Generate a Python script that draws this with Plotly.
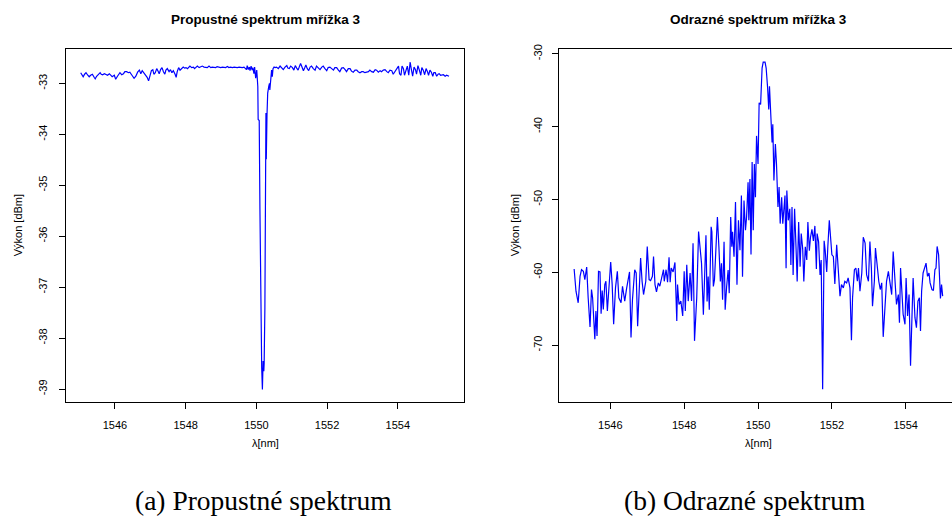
import plotly.graph_objects as go

# ---- Transmission spectrum (grating 3) ----
wl_trans = [
    1545.03, 1545.08, 1545.10, 1545.14, 1545.18, 1545.23, 1545.27, 1545.31, 1545.36, 1545.41,
    1545.44, 1545.48, 1545.53, 1545.58, 1545.61, 1545.65, 1545.70, 1545.75, 1545.79, 1545.84,
    1545.88, 1545.92, 1545.98, 1546.02, 1546.07, 1546.10, 1546.14, 1546.19, 1546.24, 1546.28,
    1546.33, 1546.38, 1546.42, 1546.48, 1546.54, 1546.59, 1546.64, 1546.69, 1546.73, 1546.77,
    1546.82, 1546.86, 1546.91, 1546.95, 1546.99, 1547.03, 1547.07, 1547.10, 1547.14, 1547.18,
    1547.22, 1547.25, 1547.29, 1547.33, 1547.37, 1547.41, 1547.44, 1547.48, 1547.53, 1547.57,
    1547.61, 1547.65, 1547.70, 1547.73, 1547.76, 1547.80, 1547.84, 1547.89, 1547.93, 1547.97,
    1548.01, 1548.05, 1548.08, 1548.12, 1548.17, 1548.22, 1548.25, 1548.29, 1548.33, 1548.38,
    1548.42, 1548.47, 1548.52, 1548.56, 1548.61, 1548.66, 1548.71, 1548.75, 1548.80, 1548.85,
    1548.89, 1548.94, 1548.99, 1549.04, 1549.08, 1549.13, 1549.18, 1549.22, 1549.27, 1549.32,
    1549.37, 1549.41, 1549.46, 1549.51, 1549.55, 1549.60, 1549.65, 1549.69, 1549.72, 1549.74,
    1549.77, 1549.80, 1549.82, 1549.85, 1549.88, 1549.90, 1549.93, 1549.95, 1549.98, 1550.01,
    1550.04, 1550.05, 1550.08, 1550.10, 1550.12, 1550.15, 1550.17, 1550.19, 1550.21, 1550.22,
    1550.24, 1550.26, 1550.27, 1550.28, 1550.30, 1550.32, 1550.35, 1550.37, 1550.38, 1550.40,
    1550.43, 1550.45, 1550.47, 1550.50, 1550.53, 1550.57, 1550.62, 1550.67, 1550.72, 1550.76,
    1550.81, 1550.86, 1550.89, 1550.93, 1550.97, 1551.02, 1551.06, 1551.10, 1551.14, 1551.18,
    1551.21, 1551.25, 1551.29, 1551.33, 1551.37, 1551.40, 1551.44, 1551.48, 1551.52, 1551.56,
    1551.61, 1551.66, 1551.70, 1551.75, 1551.80, 1551.85, 1551.89, 1551.94, 1551.99, 1552.03,
    1552.08, 1552.13, 1552.18, 1552.22, 1552.27, 1552.32, 1552.36, 1552.41, 1552.46, 1552.51,
    1552.55, 1552.60, 1552.65, 1552.69, 1552.74, 1552.79, 1552.84, 1552.88, 1552.93, 1552.98,
    1553.02, 1553.07, 1553.12, 1553.17, 1553.21, 1553.26, 1553.31, 1553.36, 1553.40, 1553.45,
    1553.50, 1553.54, 1553.59, 1553.64, 1553.69, 1553.73, 1553.78, 1553.83, 1553.87, 1553.92,
    1553.97, 1554.02, 1554.05, 1554.09, 1554.12, 1554.16, 1554.19, 1554.23, 1554.27, 1554.31,
    1554.35, 1554.38, 1554.42, 1554.46, 1554.50, 1554.53, 1554.57, 1554.61, 1554.65, 1554.68,
    1554.72, 1554.76, 1554.80, 1554.84, 1554.87, 1554.91, 1554.95, 1554.99, 1555.02, 1555.06,
    1555.10, 1555.14, 1555.17, 1555.21, 1555.25, 1555.29, 1555.34, 1555.38, 1555.45,
]
power_trans = [
    -32.79, -32.84, -32.87, -32.82, -32.79, -32.84, -32.87, -32.84, -32.82, -32.88,
    -32.91, -32.86, -32.82, -32.79, -32.82, -32.83, -32.81, -32.82, -32.84, -32.81,
    -32.84, -32.87, -32.84, -32.92, -32.86, -32.82, -32.79, -32.83, -32.81, -32.77,
    -32.77, -32.79, -32.78, -32.84, -32.90, -32.86, -32.78, -32.74, -32.81, -32.75,
    -32.79, -32.84, -32.88, -32.95, -32.87, -32.75, -32.73, -32.82, -32.79, -32.71,
    -32.76, -32.81, -32.73, -32.69, -32.77, -32.82, -32.74, -32.71, -32.77, -32.73,
    -32.79, -32.75, -32.82, -32.88, -32.77, -32.69, -32.74, -32.71, -32.68, -32.70,
    -32.69, -32.71, -32.69, -32.66, -32.69, -32.68, -32.71, -32.68, -32.66, -32.69,
    -32.68, -32.66, -32.68, -32.68, -32.69, -32.66, -32.69, -32.68, -32.68, -32.69,
    -32.67, -32.68, -32.69, -32.68, -32.68, -32.69, -32.67, -32.69, -32.68, -32.69,
    -32.68, -32.69, -32.69, -32.68, -32.69, -32.69, -32.68, -32.70, -32.73, -32.65,
    -32.73, -32.68, -32.75, -32.66, -32.74, -32.69, -32.81, -32.68, -32.90, -32.74,
    -33.06, -33.71, -33.73, -35.47, -37.42, -38.58, -39.01, -38.45, -38.65, -38.49,
    -37.42, -35.60, -33.58, -34.49, -33.62, -33.19, -33.06, -33.00, -33.13, -32.94,
    -32.74, -32.87, -32.71, -32.68, -32.69, -32.68, -32.71, -32.66, -32.69, -32.73,
    -32.68, -32.65, -32.70, -32.71, -32.66, -32.69, -32.74, -32.65, -32.70, -32.74,
    -32.68, -32.61, -32.68, -32.75, -32.69, -32.64, -32.71, -32.75, -32.68, -32.66,
    -32.71, -32.74, -32.66, -32.69, -32.73, -32.68, -32.66, -32.71, -32.75, -32.69,
    -32.68, -32.71, -32.74, -32.69, -32.69, -32.74, -32.77, -32.70, -32.69, -32.73,
    -32.77, -32.71, -32.71, -32.76, -32.78, -32.74, -32.74, -32.77, -32.79, -32.77,
    -32.77, -32.79, -32.78, -32.77, -32.74, -32.77, -32.78, -32.73, -32.74, -32.78,
    -32.75, -32.77, -32.74, -32.73, -32.77, -32.79, -32.74, -32.75, -32.82, -32.77,
    -32.73, -32.66, -32.81, -32.84, -32.66, -32.71, -32.84, -32.74, -32.66, -32.84,
    -32.58, -32.71, -32.86, -32.68, -32.73, -32.82, -32.65, -32.74, -32.84, -32.69,
    -32.74, -32.83, -32.71, -32.77, -32.84, -32.74, -32.78, -32.86, -32.79, -32.79,
    -32.86, -32.82, -32.81, -32.84, -32.84, -32.83, -32.86, -32.84, -32.86,
]

# ---- Reflection spectrum (grating 3) ----
wl_refl = [
    1545.02, 1545.07, 1545.13, 1545.18, 1545.22, 1545.27, 1545.31, 1545.36, 1545.40, 1545.45,
    1545.49, 1545.52, 1545.58, 1545.61, 1545.64, 1545.68, 1545.72, 1545.75, 1545.78, 1545.81,
    1545.85, 1545.88, 1545.92, 1545.95, 1546.01, 1546.05, 1546.09, 1546.14, 1546.19, 1546.23,
    1546.29, 1546.33, 1546.39, 1546.44, 1546.50, 1546.52, 1546.56, 1546.60, 1546.66, 1546.70,
    1546.74, 1546.79, 1546.82, 1546.86, 1546.90, 1546.96, 1547.00, 1547.05, 1547.09, 1547.14,
    1547.17, 1547.21, 1547.25, 1547.30, 1547.34, 1547.39, 1547.44, 1547.46, 1547.51, 1547.55,
    1547.59, 1547.62, 1547.65, 1547.70, 1547.75, 1547.80, 1547.82, 1547.86, 1547.91, 1547.96,
    1548.00, 1548.03, 1548.07, 1548.11, 1548.16, 1548.20, 1548.24, 1548.28, 1548.34, 1548.39,
    1548.47, 1548.52, 1548.56, 1548.59, 1548.62, 1548.65, 1548.68, 1548.73, 1548.75, 1548.79,
    1548.82, 1548.86, 1548.90, 1548.94, 1548.98, 1549.01, 1549.04, 1549.08, 1549.11, 1549.15,
    1549.19, 1549.22, 1549.26, 1549.29, 1549.31, 1549.35, 1549.39, 1549.43, 1549.47, 1549.51,
    1549.55, 1549.58, 1549.62, 1549.66, 1549.69, 1549.73, 1549.75, 1549.78, 1549.81, 1549.84,
    1549.87, 1549.90, 1549.93, 1549.96, 1550.00, 1550.03, 1550.07, 1550.11, 1550.14, 1550.19,
    1550.22, 1550.26, 1550.29, 1550.31, 1550.35, 1550.38, 1550.40, 1550.43, 1550.47, 1550.50,
    1550.54, 1550.57, 1550.60, 1550.64, 1550.67, 1550.70, 1550.73, 1550.76, 1550.78, 1550.82,
    1550.86, 1550.89, 1550.92, 1550.95, 1550.99, 1551.03, 1551.06, 1551.10, 1551.14, 1551.17,
    1551.21, 1551.24, 1551.28, 1551.32, 1551.35, 1551.39, 1551.42, 1551.46, 1551.50, 1551.54,
    1551.58, 1551.60, 1551.64, 1551.68, 1551.71, 1551.75, 1551.79, 1551.82, 1551.86, 1551.89,
    1551.93, 1552.00, 1552.04, 1552.08, 1552.13, 1552.17, 1552.22, 1552.26, 1552.31, 1552.35,
    1552.40, 1552.44, 1552.49, 1552.53, 1552.56, 1552.61, 1552.65, 1552.69, 1552.72, 1552.76,
    1552.81, 1552.85, 1552.90, 1552.94, 1552.99, 1553.03, 1553.07, 1553.10, 1553.15, 1553.18,
    1553.23, 1553.27, 1553.31, 1553.35, 1553.39, 1553.44, 1553.48, 1553.53, 1553.57, 1553.62,
    1553.66, 1553.71, 1553.75, 1553.80, 1553.83, 1553.86, 1553.91, 1553.93, 1553.98, 1554.01,
    1554.05, 1554.09, 1554.13, 1554.18, 1554.20, 1554.25, 1554.29, 1554.33, 1554.37, 1554.40,
    1554.43, 1554.47, 1554.52, 1554.55, 1554.59, 1554.63, 1554.66, 1554.71, 1554.75, 1554.79,
    1554.82, 1554.85, 1554.89, 1554.94, 1554.97, 1555.00,
]
power_refl = [
    -59.55, -62.59, -64.18, -60.55, -59.64, -59.86, -61.00, -59.27, -63.50, -67.50,
    -62.36, -63.50, -69.18, -65.32, -68.73, -59.86, -59.95, -65.68, -62.50, -65.09,
    -61.68, -61.23, -65.32, -62.59, -58.59, -61.68, -67.14, -62.14, -59.86, -63.50,
    -64.18, -61.91, -63.95, -62.23, -60.09, -59.95, -68.95, -63.73, -59.64, -60.09,
    -67.41, -61.00, -58.05, -61.23, -63.05, -61.23, -56.45, -61.00, -61.14, -60.55,
    -57.82, -61.68, -62.68, -61.45, -61.91, -60.77, -59.64, -61.23, -59.64, -61.36,
    -57.95, -61.36, -59.41, -59.95, -58.64, -66.68, -61.68, -64.41, -63.95, -66.00,
    -59.86, -65.32, -58.95, -63.95, -60.09, -63.95, -56.00, -69.41, -63.50, -54.41,
    -58.77, -65.82, -58.31, -54.90, -64.00, -60.59, -65.13, -53.75, -54.45, -61.95,
    -61.04, -56.50, -52.40, -56.50, -61.27, -58.77, -63.77, -55.80, -65.13, -61.95,
    -59.68, -62.86, -52.40, -56.50, -54.45, -57.86, -50.36, -61.72, -52.86, -56.95,
    -49.45, -60.59, -50.13, -54.22, -52.40, -47.63, -52.86, -47.18, -57.54, -44.86,
    -54.22, -45.13, -49.68, -41.27, -45.13, -36.72, -36.95, -31.95, -31.13, -31.13,
    -31.95, -34.68, -37.63, -34.45, -39.68, -42.18, -39.68, -47.40, -42.40, -45.13,
    -51.04, -48.30, -53.31, -49.68, -53.31, -51.04, -49.45, -59.45, -48.77, -52.86,
    -51.27, -58.99, -51.04, -60.36, -51.27, -56.72, -61.27, -53.09, -59.22, -54.68,
    -56.81, -61.27, -56.50, -58.31, -53.09, -57.04, -55.22, -54.09, -55.68, -53.63,
    -59.54, -54.68, -55.81, -60.36, -58.31, -76.04, -55.68, -57.04, -59.95, -56.50,
    -52.86, -57.59, -57.82, -61.59, -56.23, -59.41, -63.27, -61.68, -62.14, -61.23,
    -61.45, -60.77, -62.14, -69.32, -63.50, -59.64, -59.41, -61.23, -59.41, -62.59,
    -60.09, -55.18, -56.00, -60.32, -61.23, -55.77, -59.41, -64.64, -61.23, -56.68,
    -59.86, -61.23, -62.36, -61.45, -68.86, -63.50, -61.23, -59.86, -61.68, -63.05,
    -57.14, -61.00, -64.41, -63.05, -66.91, -59.41, -64.18, -65.77, -67.14, -60.77,
    -66.00, -63.05, -72.82, -63.95, -60.77, -66.23, -67.59, -63.95, -63.50, -68.05,
    -62.59, -60.09, -59.18, -58.73, -60.55, -60.09, -61.45, -62.36, -62.50, -59.64,
    -59.41, -56.45, -57.59, -63.59, -61.68, -63.27,
]

x_ticks = [1546, 1548, 1550, 1552, 1554]
y_ticks_trans = [-39, -38, -37, -36, -35, -34, -33]
y_ticks_refl = [-70, -60, -50, -40, -30]

W, H = 952, 519
SANS = "Liberation Sans, Arial, Helvetica, sans-serif"
SERIF = "Liberation Serif, Times New Roman, serif"
LINE = dict(color="#0000ff", width=1.2)

fig = go.Figure()
fig.add_trace(go.Scatter(x=wl_trans, y=power_trans, mode="lines", line=LINE,
                         xaxis="x", yaxis="y", hoverinfo="skip"))
fig.add_trace(go.Scatter(x=wl_refl, y=power_refl, mode="lines", line=LINE,
                         xaxis="x2", yaxis="y2", hoverinfo="skip"))

ydom = [1 - 401.5 / H, 1 - 45 / H]
axis_common = dict(
    showgrid=False, zeroline=False, showline=True, linecolor="black", linewidth=1,
    ticks="outside", ticklen=6, tickwidth=1, tickcolor="black",
    tickfont=dict(family=SANS, size=11, color="black"),
)

fig.update_layout(
    width=W, height=H,
    margin=dict(l=0, r=0, t=0, b=0),
    paper_bgcolor="white", plot_bgcolor="white",
    showlegend=False,
    xaxis=dict(domain=[66 / W, 464 / W], range=[1544.614, 1555.873], anchor="y",
               tickvals=x_ticks, ticktext=[str(v) for v in x_ticks], mirror=True,
               ticklabelstandoff=6, **axis_common),
    yaxis=dict(domain=ydom, range=[-39.263, -32.318], anchor="x",
               tickvals=y_ticks_trans, ticktext=[str(v) for v in y_ticks_trans],
               tickangle=-90, mirror=True, ticklabelstandoff=8, **axis_common),
    xaxis2=dict(domain=[559 / W, 1.0], range=[1544.61, 1555.253], anchor="y2",
                tickvals=x_ticks, ticktext=[str(v) for v in x_ticks], mirror=True,
                ticklabelstandoff=6, **axis_common),
    yaxis2=dict(domain=ydom, range=[-77.86, -29.29], anchor="x2",
                tickvals=y_ticks_refl, ticktext=[str(v) for v in y_ticks_refl],
                tickangle=-90, mirror=False, ticklabelstandoff=6, **axis_common),
)


def note(text, x, y, size, family=SANS, angle=0):
    fig.add_annotation(text=text, x=x / W, y=1 - y / H, xref="paper", yref="paper",
                       showarrow=False, xanchor="center", yanchor="middle",
                       textangle=angle, font=dict(family=family, size=size, color="black"))


# panel titles
note("<b>Propustné spektrum mřížka 3</b>", 266, 16, 13.5)
note("<b>Odrazné spektrum mřížka 3</b>", 758, 16, 13.5)
# axis titles
note("λ[nm]", 265, 442, 11)
note("λ[nm]", 758, 442, 11)
note("Výkon [dBm]", 18, 223, 11, angle=-90)
note("Výkon [dBm]", 515, 223, 11, angle=-90)
# sub-figure captions
note("(a) Propustné spektrum", 263, 500, 27.5, family=SERIF)
note("(b) Odrazné spektrum", 744, 500, 27.5, family=SERIF)

fig.write_html("out.html")
